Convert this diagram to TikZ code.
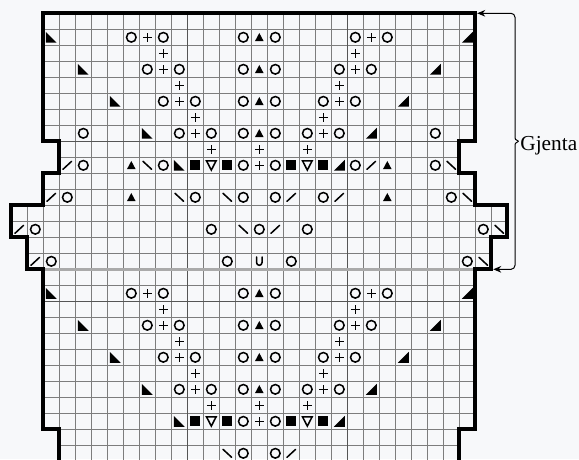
\documentclass[tikz,border=0pt]{standalone}
\usepackage{fontspec}
\setmainfont{Liberation Serif}
\usetikzlibrary{arrows.meta}

\definecolor{paper}{RGB}{247,248,250}
\definecolor{gridgray}{RGB}{125,125,125}
\definecolor{tengray}{RGB}{85,85,85}
\definecolor{repgray}{RGB}{170,170,170}

% outline of the chart, one unit = one stitch
\newcommand{\chartoutline}{(2,0) -- (29,0) -- (29,-8) -- (28,-8) -- (28,-10) -- (29,-10)
  -- (29,-12) -- (31,-12) -- (31,-14) -- (30,-14) -- (30,-16) -- (29,-16) -- (29,-26)
  -- (28,-26) -- (28,-30) -- (3,-30) -- (3,-26) -- (2,-26) -- (2,-16) -- (1,-16)
  -- (1,-14) -- (0,-14) -- (0,-12) -- (2,-12) -- (2,-10) -- (3,-10) -- (3,-8)
  -- (2,-8) -- cycle}

\begin{document}
\begin{tikzpicture}[x=12pt,y=12pt,
  gridline/.style={draw=gridgray,line width=0.65pt},
  tenline/.style={draw=tengray,line width=1.1pt},
  repline/.style={draw=repgray,line width=2.2pt},
  symline/.style={line width=1.15pt,line cap=round},
  yo/.pic={\draw[symline] (0,0) circle (0.3);},
  cross/.pic={\draw[symline,line cap=butt] (-0.28,0) -- (0.28,0) (0,-0.28) -- (0,0.28);},
  dec/.pic={\fill (-0.27,-0.24) -- (0.27,-0.24) -- (0,0.27) -- cycle;},
  lslant/.pic={\fill (-0.34,0.34) -- (-0.34,-0.34) -- (0.34,-0.34) -- cycle;},
  rslant/.pic={\fill (0.34,0.34) -- (0.34,-0.34) -- (-0.34,-0.34) -- cycle;},
  blk/.pic={\fill (-0.32,-0.32) rectangle (0.32,0.32);},
  notri/.pic={\draw[symline,line join=miter] (-0.3,0.28) -- (0.3,0.28) -- (0,-0.3) -- cycle;},
  fwd/.pic={\draw[symline] (-0.27,-0.25) -- (0.27,0.25);},
  bwd/.pic={\draw[symline] (-0.27,0.25) -- (0.27,-0.25);},
  ucup/.pic={\draw[symline] (-0.17,0.27) -- (-0.17,-0.08) arc (180:360:0.17) -- (0.17,0.27);}
]
\useasboundingbox (-0.706,0.831) rectangle (35.48,-27.856);
\clip (-0.706,0.831) rectangle (35.48,-27.856);
\fill[paper] (-0.706,0.831) rectangle (35.48,-27.856);

% grid
\begin{scope}
\clip \chartoutline;
\foreach \x in {0,...,31} \draw[gridline] (\x,1) -- (\x,-30);
\foreach \y in {0,...,29} \draw[gridline] (-1,-\y) -- (32,-\y);
\draw[tenline] (11,1) -- (11,-30) (21,1) -- (21,-30) (-1,-8) -- (32,-8) (-1,-18) -- (32,-18);
\draw[repline] (-1,-16) -- (32,-16);
\end{scope}
\draw[line width=2.8pt,line join=miter] \chartoutline;

% symbols of the repeat (rows 1-9 and 17-25)
\foreach \dr in {0,16} {
  \foreach \c/\r in {7/1,9/1,14/1,16/1,21/1,23/1,8/3,10/3,14/3,16/3,20/3,22/3,
      9/5,11/5,14/5,16/5,19/5,21/5,10/7,12/7,14/7,16/7,18/7,20/7,14/9,16/9}
    \pic at (\c+0.5,-\r-\dr-0.5) {yo};
  \foreach \c/\r in {8/1,22/1,9/2,21/2,9/3,21/3,10/4,20/4,10/5,20/5,11/6,19/6,
      11/7,19/7,12/8,15/8,18/8,15/9}
    \pic at (\c+0.5,-\r-\dr-0.5) {cross};
  \foreach \r in {1,3,5,7} \pic at (15.5,-\r-\dr-0.5) {dec};
  \foreach \c/\r in {2/1,4/3,6/5,8/7,10/9} \pic at (\c+0.5,-\r-\dr-0.5) {lslant};
  \foreach \c/\r in {28/1,26/3,24/5,22/7,20/9} \pic at (\c+0.5,-\r-\dr-0.5) {rslant};
  \foreach \c in {11,13,17,19} \pic at (\c+0.5,-9-\dr-0.5) {blk};
  \foreach \c in {12,18} \pic at (\c+0.5,-9-\dr-0.5) {notri};
}

% symbols outside the repeat
\foreach \c/\r in {4/7,26/7,4/9,9/9,21/9,26/9,3/11,11/11,14/11,16/11,19/11,27/11,
    1/13,12/13,15/13,18/13,29/13,2/15,13/15,17/15,28/15,14/27,16/27}
  \pic at (\c+0.5,-\r-0.5) {yo};
\foreach \c/\r in {7/9,23/9,7/11,23/11} \pic at (\c+0.5,-\r-0.5) {dec};
\foreach \c/\r in {3/9,22/9,2/11,17/11,20/11,0/13,16/13,1/15,17/27}
  \pic at (\c+0.5,-\r-0.5) {fwd};
\foreach \c/\r in {8/9,27/9,10/11,13/11,28/11,14/13,30/13,29/15,13/27}
  \pic at (\c+0.5,-\r-0.5) {bwd};
\pic at (15.5,-15.5) {ucup};

% repeat marker
\coordinate (topend) at (29.12,0);
\coordinate (botend) at (30.12,-16);
\coordinate (cusp) at (31.7,-8);
\draw[-{Stealth[length=6pt,width=5pt]},line width=0.75pt,rounded corners=3pt]
  (cusp) to[out=180,in=-90] (31.48,-7.55) |- (topend);
\draw[-{Stealth[length=6pt,width=5pt]},line width=0.75pt,rounded corners=3pt]
  (cusp) to[out=180,in=90] (31.48,-8.45) |- (botend);
\node[anchor=base west,inner sep=0pt,font=\fontsize{16}{19}\selectfont] (gjenta)
  at (31.8,-8.55) {Gjenta};
\end{tikzpicture}
\end{document}
